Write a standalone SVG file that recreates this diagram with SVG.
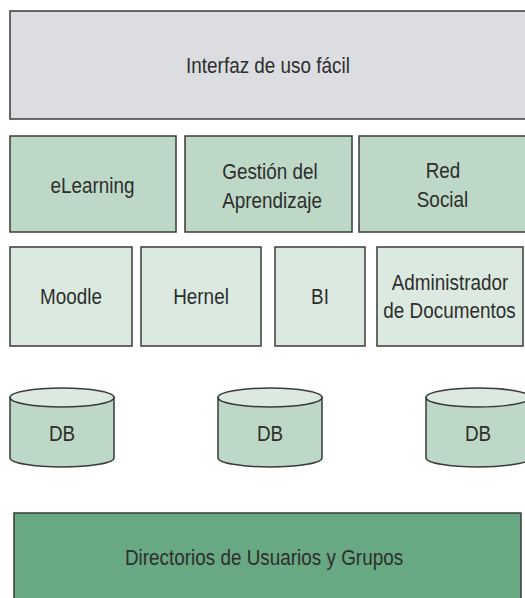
<svg xmlns="http://www.w3.org/2000/svg" width="525" height="598" viewBox="0 0 525 598">
<style>
.box{stroke:#3a3a3a;stroke-width:1.5}
.top{fill:#dcdde0}
.mid{fill:#bdd8c7}
.low{fill:#dbe9e0}
.dir{fill:#68a983}
.t{font-family:"Liberation Sans",Arial,sans-serif;font-size:22.5px;fill:#2e2e2e;text-anchor:middle}
</style>
<rect width="525" height="598" fill="#fff"/>
<g id="interfaz">
<rect class="box top" x="10" y="11" width="520" height="108"/>
<text class="t" transform="translate(268 73) scale(0.84 1)">Interfaz de uso fácil</text>
</g>
<g id="elearning">
<rect class="box mid" x="10" y="136" width="166" height="96"/>
<text class="t" transform="translate(92.5 193) scale(0.84 1)">eLearning</text>
</g>
<g id="gestion">
<rect class="box mid" x="185" y="136" width="167" height="96"/>
<text class="t" transform="translate(270 179) scale(0.84 1)">Gestión del</text>
<text class="t" transform="translate(272 208) scale(0.84 1)">Aprendizaje</text>
</g>
<g id="redsocial">
<rect class="box mid" x="359" y="136" width="171" height="96"/>
<text class="t" transform="translate(443 178) scale(0.84 1)">Red</text>
<text class="t" transform="translate(442.5 207) scale(0.84 1)">Social</text>
</g>
<g id="moodle">
<rect class="box low" x="10" y="247" width="122" height="99"/>
<text class="t" transform="translate(71 304) scale(0.84 1)">Moodle</text>
</g>
<g id="hernel">
<rect class="box low" x="141" y="247" width="120" height="99"/>
<text class="t" transform="translate(201 304) scale(0.84 1)">Hernel</text>
</g>
<g id="bi">
<rect class="box low" x="275" y="247" width="90" height="99"/>
<text class="t" transform="translate(320 304) scale(0.84 1)">BI</text>
</g>
<g id="admin">
<rect class="box low" x="377" y="247" width="146" height="99"/>
<text class="t" transform="translate(450 290) scale(0.84 1)">Administrador</text>
<text class="t" transform="translate(449.5 318) scale(0.84 1)">de Documentos</text>
</g>
<g id="db1">
<path class="box mid" d="M10,397.5 V458 A52,9 0 0 0 114,458 V397.5 Z"/>
<ellipse class="box low" cx="62" cy="397.5" rx="52" ry="9.5"/>
<text class="t" transform="translate(62 441) scale(0.84 1)">DB</text>
</g>
<g id="db2">
<path class="box mid" d="M218,397.5 V458 A52,9 0 0 0 322,458 V397.5 Z"/>
<ellipse class="box low" cx="270" cy="397.5" rx="52" ry="9.5"/>
<text class="t" transform="translate(270 441) scale(0.84 1)">DB</text>
</g>
<g id="db3">
<path class="box mid" d="M426,397.5 V458 A52,9 0 0 0 530,458 V397.5 Z"/>
<ellipse class="box low" cx="478" cy="397.5" rx="52" ry="9.5"/>
<text class="t" transform="translate(478 441) scale(0.84 1)">DB</text>
</g>
<g id="directorios">
<rect class="box dir" x="14" y="513" width="507" height="100"/>
<text class="t" transform="translate(264 565) scale(0.84 1)">Directorios de Usuarios y Grupos</text>
</g>
<g id="connectors"></g>
</svg>
